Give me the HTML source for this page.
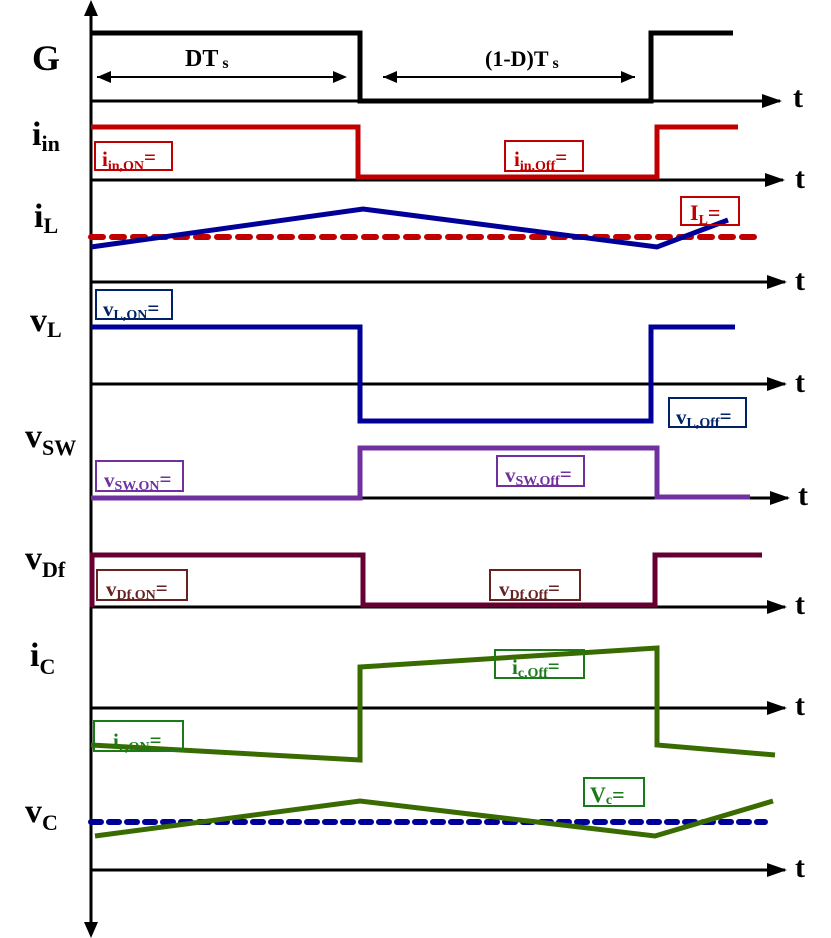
<!DOCTYPE html>
<html><head><meta charset="utf-8"><style>
html,body{margin:0;padding:0;background:#fff}
svg{display:block}
text{font-family:"Liberation Serif",serif;font-weight:bold}
</style></head><body>
<svg width="831" height="938" viewBox="0 0 831 938" xmlns="http://www.w3.org/2000/svg">
<defs>
<marker id="ah2" markerWidth="20" markerHeight="14" refX="18" refY="7" orient="auto" markerUnits="userSpaceOnUse"><path d="M0,0 L20,7 L0,14 Z" fill="#000"/></marker>
</defs>
<g stroke="#000" stroke-width="3" fill="none">
<line x1="91" y1="930" x2="91" y2="4"/>
<path d="M84,16 L91,0 L98,16 Z" fill="#000" stroke="none"/>
<path d="M84,922 L91,938 L98,922 Z" fill="#000" stroke="none"/>
<line x1="91" y1="101" x2="780" y2="101" marker-end="url(#ah2)"/>
<line x1="91" y1="180" x2="783" y2="180" marker-end="url(#ah2)"/>
<line x1="91" y1="282" x2="785" y2="282" marker-end="url(#ah2)"/>
<line x1="91" y1="384" x2="785" y2="384" marker-end="url(#ah2)"/>
<line x1="91" y1="498" x2="788" y2="498" marker-end="url(#ah2)"/>
<line x1="91" y1="607" x2="785" y2="607" marker-end="url(#ah2)"/>
<line x1="91" y1="708" x2="785" y2="708" marker-end="url(#ah2)"/>
<line x1="91" y1="870" x2="785" y2="870" marker-end="url(#ah2)"/>
</g>
<g font-size="30">
<text x="793" y="107">t</text><text x="795" y="188">t</text><text x="795" y="290">t</text>
<text x="795" y="392">t</text><text x="798" y="505">t</text><text x="795" y="614">t</text>
<text x="795" y="715">t</text><text x="795" y="877">t</text>
</g>
<!-- left labels -->
<text x="32" y="70" font-size="36">G</text>
<text x="32" y="145" font-size="34">i<tspan font-size="22" dy="6">in</tspan></text>
<text x="34" y="227" font-size="34">i<tspan font-size="22" dy="6">L</tspan></text>
<text x="30" y="331" font-size="34">v<tspan font-size="22" dy="6">L</tspan></text>
<text x="25" y="447" font-size="34">v<tspan font-size="22" dy="8">SW</tspan></text>
<text x="25" y="569" font-size="34">v<tspan font-size="22" dy="8">Df</tspan></text>
<text x="30" y="666" font-size="34">i<tspan font-size="22" dy="8">C</tspan></text>
<text x="25" y="822" font-size="34">v<tspan font-size="22" dy="8">C</tspan></text>
<!-- G -->
<path d="M91,33 L360,33 L360,101 L651,101 L651,33 L733,33" stroke="#000" stroke-width="5" fill="none"/>
<line x1="97" y1="77" x2="345" y2="77" stroke="#000" stroke-width="2"/>
<path d="M97,77 L111,71 L111,83 Z M347,77 L333,71 L333,83 Z M383,77 L397,71 L397,83 Z M635,77 L621,71 L621,83 Z" fill="#000"/>
<line x1="383" y1="77" x2="635" y2="77" stroke="#000" stroke-width="2"/>
<text x="185" y="66" font-size="24">DT<tspan font-size="16" dy="2"> s</tspan></text>
<text x="485" y="66" font-size="22">(1-D)T<tspan font-size="16" dy="2"> s</tspan></text>
<!-- iin -->
<path d="M91,127 L358,127 L358,177 L657,177 L657,127 L738,127" stroke="#c00000" stroke-width="5" fill="none"/>
<rect x="95" y="142" width="77" height="28" fill="none" stroke="#c00000" stroke-width="2"/>
<text x="102" y="166" font-size="21" fill="#c00000">i<tspan font-size="14" dy="4">in,ON</tspan><tspan dy="-6">=</tspan></text>
<rect x="505" y="141" width="78" height="30" fill="none" stroke="#c00000" stroke-width="2"/>
<text x="514" y="166" font-size="21" fill="#c00000">i<tspan font-size="14" dy="4">in,Off</tspan><tspan dy="-6">=</tspan></text>
<!-- iL -->
<line x1="91" y1="237" x2="760" y2="237" stroke="#c00000" stroke-width="6" stroke-dasharray="12,9" stroke-linecap="round"/>
<path d="M91,247 L363,209 L657,247 L728,220" stroke="#000099" stroke-width="5" fill="none"/>
<rect x="681" y="197" width="58" height="28" fill="none" stroke="#c00000" stroke-width="2"/>
<text x="690" y="220" font-size="22" fill="#c00000">I<tspan font-size="14" dy="4">L</tspan><tspan dy="-4">=</tspan></text>
<!-- vL -->
<path d="M91,327 L360,327 L360,421 L651,421 L651,327 L735,327" stroke="#000099" stroke-width="5" fill="none"/>
<rect x="96" y="290" width="76" height="29" fill="none" stroke="#002266" stroke-width="2"/>
<text x="103" y="316" font-size="21" fill="#002266">v<tspan font-size="14" dy="3">L,ON</tspan><tspan dy="-4">=</tspan></text>
<rect x="669" y="398" width="77" height="29" fill="none" stroke="#002266" stroke-width="2"/>
<text x="676" y="424" font-size="21" fill="#002266">v<tspan font-size="14" dy="3">L,Off</tspan><tspan dy="-4">=</tspan></text>
<!-- vsw -->
<path d="M91,498 L360,498 L360,448 L657,448 L657,497 L750,497" stroke="#7030a0" stroke-width="5" fill="none"/>
<rect x="96" y="461" width="87" height="30" fill="none" stroke="#7030a0" stroke-width="2"/>
<text x="104" y="487" font-size="21" fill="#7030a0">v<tspan font-size="14" dy="3">SW,ON</tspan><tspan dy="-4">=</tspan></text>
<rect x="497" y="456" width="87" height="30" fill="none" stroke="#7030a0" stroke-width="2"/>
<text x="505" y="482" font-size="21" fill="#7030a0">v<tspan font-size="14" dy="3">SW,Off</tspan><tspan dy="-4">=</tspan></text>
<!-- vDf -->
<path d="M92,607 L92,555 L363,555 L363,605 L655,605 L655,555 L762,555" stroke="#660033" stroke-width="5" fill="none"/>
<rect x="97" y="570" width="90" height="30" fill="none" stroke="#662222" stroke-width="2"/>
<text x="106" y="596" font-size="21" fill="#662222">v<tspan font-size="14" dy="3">Df,ON</tspan><tspan dy="-4">=</tspan></text>
<rect x="490" y="570" width="90" height="30" fill="none" stroke="#662222" stroke-width="2"/>
<text x="499" y="596" font-size="21" fill="#662222">v<tspan font-size="14" dy="3">Df,Off</tspan><tspan dy="-4">=</tspan></text>
<!-- iC -->
<path d="M91,745 L360,760 L360,667 L657,648 L657,745 L775,755" stroke="#3a6b00" stroke-width="5" fill="none"/>
<rect x="94" y="721" width="89" height="30" fill="none" stroke="#1a7a1a" stroke-width="2"/>
<text x="113" y="748" font-size="21" fill="#1a7a1a">i<tspan font-size="14" dy="3">c,ON</tspan><tspan dy="-4">=</tspan></text>
<rect x="495" y="650" width="89" height="28" fill="none" stroke="#1a7a1a" stroke-width="2"/>
<text x="512" y="674" font-size="21" fill="#1a7a1a">i<tspan font-size="14" dy="3">c,Off</tspan><tspan dy="-4">=</tspan></text>
<!-- vC -->
<line x1="91" y1="822" x2="765" y2="822" stroke="#000099" stroke-width="6" stroke-dasharray="10,8" stroke-linecap="round"/>
<path d="M95,836 L360,801 L655,836 L773,801" stroke="#3a6b00" stroke-width="5" fill="none"/>
<rect x="584" y="778" width="60" height="28" fill="none" stroke="#1a7a1a" stroke-width="2"/>
<text x="590" y="802" font-size="22" fill="#1a7a1a">V<tspan font-size="14" dy="2">c</tspan><tspan dy="-2">=</tspan></text>
</svg>
</body></html>
